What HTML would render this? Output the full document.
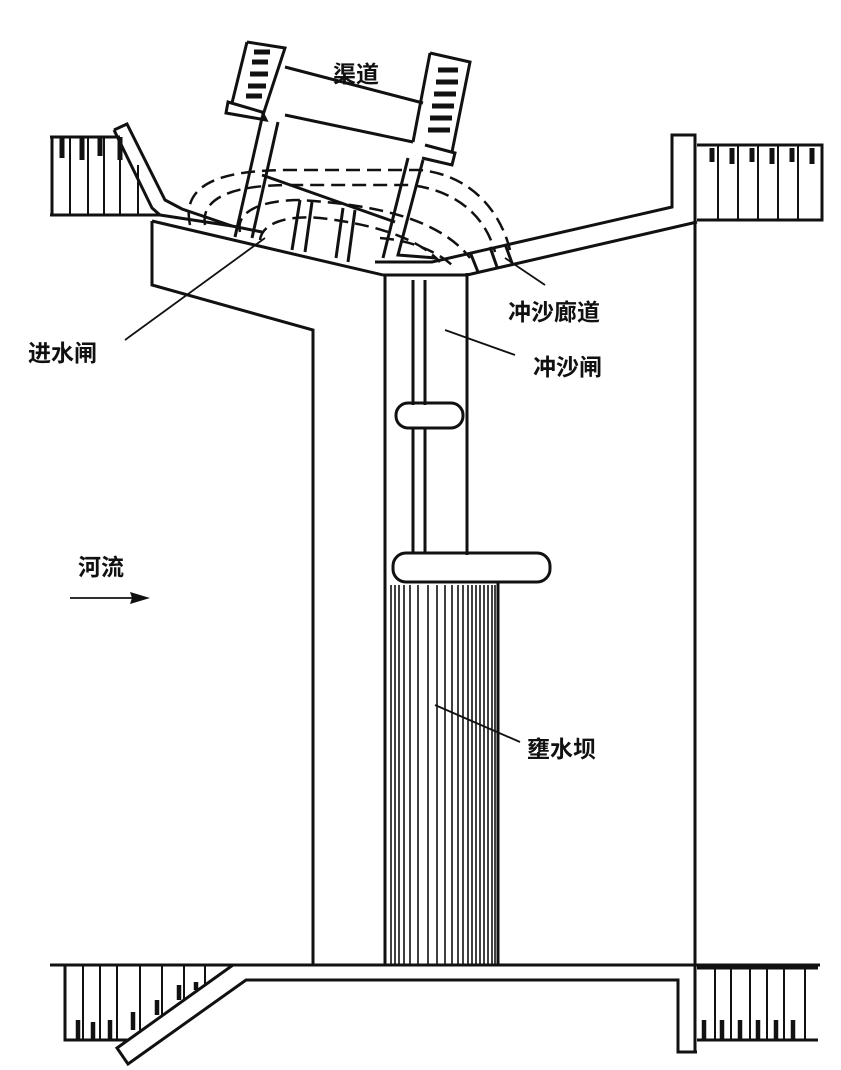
<!DOCTYPE html>
<html><head><meta charset="utf-8"><style>
html,body{margin:0;padding:0;background:#fff;}
svg{display:block;}
text{font-family:"Liberation Sans","Noto Sans CJK SC",sans-serif;font-weight:bold;fill:#111;font-size:23px;}
</style></head><body>
<svg width="841" height="1070" viewBox="0 0 841 1070" xmlns="http://www.w3.org/2000/svg">
<g fill="none" stroke="#111" stroke-width="3" stroke-linejoin="miter">
<path d="M50 137 H120 M50 215 H160 M52 137 V215"/>
<g stroke-width="2"><path d="M70 137V215M88 137V215M104 137V215M120 137V215M138 165V215"/></g>
<g stroke-width="5"><path d="M62 137V158M82 137V160M100 137V156M120 137V160"/></g>
<path d="M114 130 L127 124 L165 200 L182 209 L232 226"/>
<path d="M114 130 L152 208 L160 215"/>
<path d="M152 221 L383 275"/>
<path d="M160 215 L232 226 M232 226 L262 232"/>
<path d="M152 221 V285 L313 330 V965"/>
<path d="M247 42 L285 48 L262 118"/>
<path d="M247 42 L232 103"/>
<path d="M228 102 L262 112 L266 120 L226 113 Z"/>
<path d="M262 118 L235 237"/>
<path d="M278 122 L252 238"/>
<path d="M430 53 L470 62 L452 152"/>
<path d="M425 145 L455 153 L452 165 L422 158"/>
<path d="M430 53 L413 142"/>
<path d="M423 160 L398 255 L436 258"/>
<path d="M408 158 L383 258"/>
<path d="M285 67 L423 103"/>
<path d="M285 115 L413 142"/>
<g stroke-width="5">
<path d="M254 52H270M252 62H268M250 74H268M248 86H266M246 96H262"/>
<path d="M438 70H458M436 82H458M434 94H456M432 106H454M430 118H452M428 130H450"/>
</g>
<path d="M300 200 L292 250 M312 202 L305 252 M343 208 L336 258 M355 210 L348 262"/>
<path d="M262 175 L395 222"/>
<g stroke-dasharray="14 7" stroke-width="2.5">
<path d="M190 225 C180 180 230 170 290 170 H420 C470 175 500 210 510 250"/>
<path d="M205 225 C200 195 240 185 290 185 H410 C455 190 485 215 495 252"/>
<path d="M240 232 C235 210 265 200 300 200 C380 205 440 220 470 258"/>
<path d="M260 240 C262 222 290 215 320 218 C380 225 420 240 440 262"/>
<path d="M380 238 C410 240 440 252 455 268"/>
</g>
<path d="M375 262 H432 L672 207 V135 H695 V1052"/>
<path d="M383 275 H467 L697 222"/>
<path d="M470 252 L478 272 M490 247 L497 267 M505 244 L512 263"/>
<path d="M697 145 H822 V220 H697"/>
<g stroke-width="2"><path d="M718 145V220M738 145V220M758 145V220M778 145V220M798 145V220"/></g>
<g stroke-width="5"><path d="M712 148V162M732 148V164M752 148V162M772 148V164M792 148V162M812 148V164"/></g>
<path d="M385 275 V965"/>
<path d="M467 273 V555"/>
<path d="M413 280 V405 M425 280 V405 M413 428 V553 M425 428 V553"/>
<rect x="396" y="403" width="67" height="25" rx="12"/>
<rect x="393" y="553" width="157" height="29" rx="13"/>
<path d="M498 582 V965"/>
<g stroke-width="1.6">
<path d="M391 585V965M395 585V965M399 585V965M404 585V965M410 585V965M418 585V965M428 585V965M437 585V965M445 585V965M452 585V965M458 585V965M463 585V965M468 585V965M472 585V965M476 585V965M480 585V965M484 585V965M488 585V965M492 585V965M495 585V965"/>
</g>
<path d="M50 965 H820"/>
<path d="M65 965 V1040 H128"/>
<g stroke-width="2"><path d="M83 965V1040M100 965V1040M117 965V1040M140 965V1030M162 965V1015M184 965V1000M205 965V985"/></g>
<g stroke-width="4.5"><path d="M78 1020V1040M93 1022V1040M110 1020V1040M133 1012V1030M157 1000V1015M179 985V1000M196 982V990"/></g>
<path d="M233 965 L117 1048 L128 1064 L246 980 H678 V1052 H697"/>
<path d="M697 968 H818 M697 1040 H818"/>
<g stroke-width="2"><path d="M715 968V1040M731 968V1040M750 968V1040M767 968V1040M784 968V1040M805 968V1040"/></g>
<g stroke-width="4.5"><path d="M704 1020V1040M722 1020V1040M740 1020V1040M758 1020V1040M776 1020V1040M793 1020V1040"/></g>
<g stroke-width="1.8">
<path d="M125 340 L265 238"/>
<path d="M545 285 L505 258"/>
<path d="M515 355 L445 330"/>
<path d="M520 742 L435 705"/>
<path d="M70 598 H135"/>
</g>
</g>
<path d="M150 598 L130 592 L132 598 L130 604 Z" fill="#111"/>
<text x="333" y="82">渠道</text>
<text x="28" y="361">进水闸</text>
<text x="508" y="320">冲沙廊道</text>
<text x="533" y="375">冲沙闸</text>
<text x="78" y="575">河流</text>
<text x="527" y="757">壅水坝</text>
</svg>
</body></html>
